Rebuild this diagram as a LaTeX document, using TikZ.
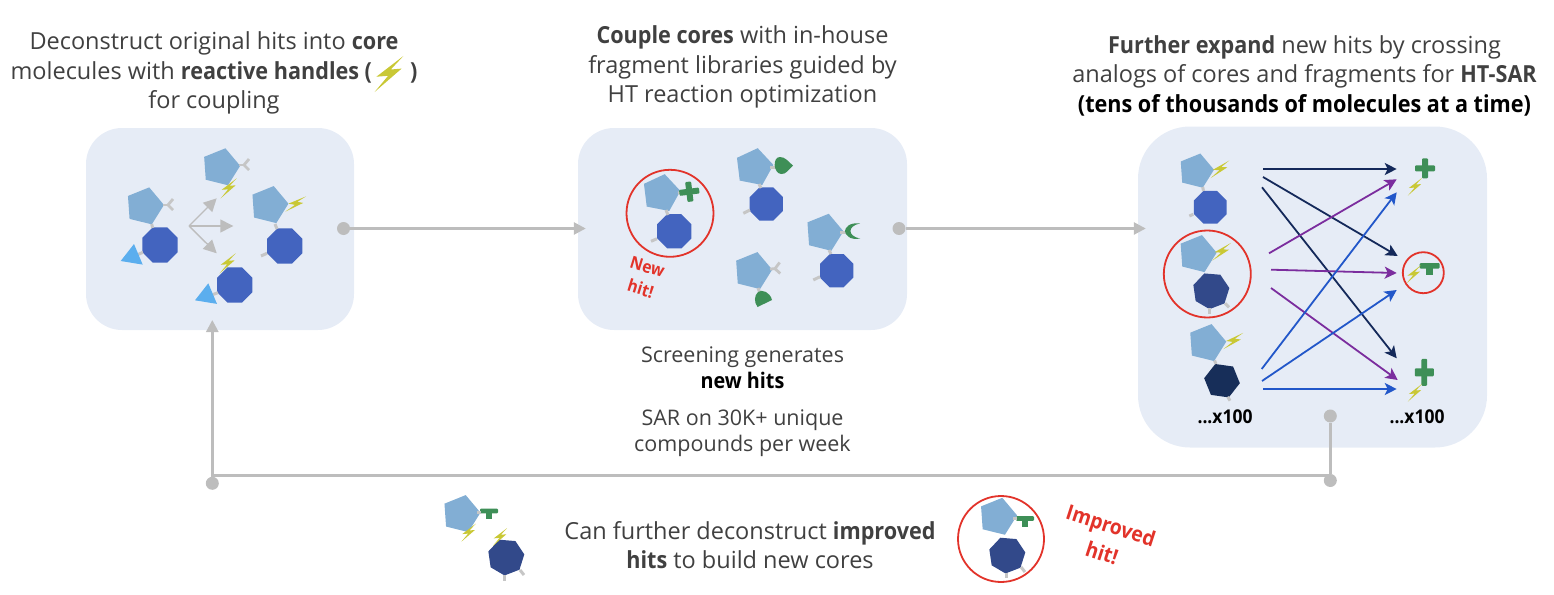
\documentclass[tikz,border=0pt]{standalone}
\usepackage{fontspec}
\setmainfont{Open Sans}[BoldFeatures={FakeStretch=0.92}]
\usepackage{xcolor}
\usetikzlibrary{shapes.geometric, arrows.meta, positioning}

\definecolor{panelblue}{HTML}{E6ECF6}
\definecolor{pentblue}{HTML}{82AED4}
\definecolor{octablue}{HTML}{4364BF}
\definecolor{heptblue}{HTML}{32498A}
\definecolor{hexnavy}{HTML}{172E59}
\definecolor{wedgeblue}{HTML}{5BAEEE}
\definecolor{leafgreen}{HTML}{3E8F57}
\definecolor{boltyellow}{HTML}{C9C835}
\definecolor{stubgray}{HTML}{C6C6C6}
\definecolor{flowgray}{HTML}{BDBDBD}
\definecolor{textgray}{HTML}{404040}
\definecolor{hitred}{HTML}{E2332A}
\definecolor{navyline}{HTML}{14295A}
\definecolor{purpleline}{HTML}{7B2D9E}
\definecolor{blueline}{HTML}{2257C9}

\tikzset{
  panel/.style={fill=panelblue, rounded corners=36pt, inner sep=0pt},
  heading/.style={align=center, text=textgray, font=\fontsize{23.5}{29.5}\selectfont, inner sep=0pt},
  caption/.style={align=center, text=textgray, font=\fontsize{21.5}{26.5}\selectfont, inner sep=0pt},
  countlabel/.style={font=\fontsize{19}{20}\selectfont\bfseries, inner sep=0pt},
  hitlabel/.style={align=center, text=hitred, font=\fontsize{17}{23}\selectfont\bfseries, inner sep=0pt},
  pent/.style={regular polygon, regular polygon sides=5, minimum size=39pt, inner sep=0pt, fill=pentblue},
  octa/.style={regular polygon, regular polygon sides=8, minimum size=38pt, inner sep=0pt, fill=octablue},
  hept/.style={regular polygon, regular polygon sides=7, minimum size=37pt, inner sep=0pt, fill=heptblue},
  hexa/.style={regular polygon, regular polygon sides=6, minimum size=36pt, inner sep=0pt, fill=hexnavy},
  hitring/.style={circle, draw=hitred, line width=1.8pt, inner sep=0pt},
  hubdot/.style={circle, fill=flowgray, minimum size=13pt, inner sep=0pt},
  stub/.style={draw=stubgray, line width=3pt},
  flowline/.style={draw=flowgray, line width=2.6pt},
  flowarrow/.style={flowline, -{Triangle[length=12pt,width=12pt]}},
  splitarrow/.style={draw=flowgray, line width=1.4pt, -{Triangle[length=13pt,width=13pt]}},
  navyarrow/.style={draw=navyline, line width=1.8pt, -{Stealth[length=12pt,width=12pt,inset=3pt]}},
  purplearrow/.style={draw=purpleline, line width=1.8pt, -{Stealth[length=12pt,width=12pt,inset=3pt]}},
  bluearrow/.style={draw=blueline, line width=1.8pt, -{Stealth[length=12pt,width=12pt,inset=3pt]}},
  bolt/.pic={\fill[boltyellow] (8,-10) -- (-7,1.5) -- (-0.5,1) -- (-8,10) -- (7,-3) -- (1,-2.5) -- cycle;},
  forkend/.pic={
    \draw[stub, line width=2.8pt] (0,0) -- (5,0);
    \draw[stub, line width=2.8pt] (10,-6) -- (5,0) -- (10,5);
  },
  pluscap/.pic={
    \fill[leafgreen, rounded corners=1pt] (-3,-10) rectangle (3,10);
    \fill[leafgreen, rounded corners=1pt] (-10,-3) rectangle (10,3);
  },
  teecap/.pic={
    \fill[leafgreen, rounded corners=1pt] (-10,-2.7) rectangle (10,2.7);
    \fill[leafgreen] (-3.3,0) rectangle (3.3,9);
  },
  wedgecap/.pic={\fill[wedgeblue] (13.3,-12.3) -- (0,4.7) -- (22,8.3) -- cycle;},
}

\begin{document}
\begin{tikzpicture}[x=1pt, y=-1pt]
    \useasboundingbox (0,0) rectangle (1554,594);

    % Panels
    \node (box1) [panel, minimum width=268pt, minimum height=202pt] at (220,229) {};
    \node (box2) [panel, minimum width=329pt, minimum height=202pt] at (742.5,229) {};
    \node (box3) [panel, rounded corners=52pt, minimum width=349pt, minimum height=321pt] at (1312.5,287) {};

    % Headings
    \node (head1) [heading, above=13pt of box1, xshift=-6pt] {Deconstruct original hits into \textbf{core}\\molecules with \textbf{reactive handles (\hspace*{38pt})}\\for coupling};
    \node (head2) [heading, above=19pt of box2] {\textbf{Couple cores} with in-house\\fragment libraries guided by\\HT reaction optimization};
    \node (head3) [heading, above=10pt of box3, xshift=-8pt] {\textbf{Further expand} new hits by crossing\\analogs of cores and fragments for \textbf{HT-SAR}\\\textcolor{black}{\textbf{(tens of thousands of molecules at a time)}}};
    \pic [scale=1.8] at (389,74) {bolt};

    % Captions
    \node (cap1) [caption, below=16pt of box2] {Screening generates\\\textcolor{black}{\textbf{new hits}}};
    \node (cap2) [caption, below=20pt of cap1] {SAR on 30K+ unique\\compounds per week};
    \node (cap3) [heading] at (750,545) {Can further deconstruct \textbf{improved}\\\textbf{hits} to build new cores};

    % Panel 1 molecules
    \node (p1a) [pent, shape border rotate=-14] at (144.5,206.3) {};
    \node (o1a) [octa] at (160,245) {};
    \draw[stub] (151.7,224) -- (152.7,228);
    \draw[stub] (143,252.3) -- (138,254.5);
    \pic at (163,205) {forkend};
    \pic at (120.7,256.3) {wedgecap};
    \node (p1b) [pent, shape border rotate=-14] at (220.7,167.2) {};
    \pic at (239,165) {forkend};
    \pic at (228.7,188.3) {bolt};
    \node (p1c) [pent, shape border rotate=-14] at (269,205) {};
    \node (o1c) [octa] at (284.7,246) {};
    \draw[stub] (275,224) -- (277,229);
    \draw[stub] (267,253.3) -- (261,256);
    \pic [rotate=-15] at (295.7,204) {bolt};
    \node (o1d) [octa] at (234.7,285) {};
    \draw[stub] (218,292.7) -- (213,294.5);
    \pic at (195,295.6) {wedgecap};
    \pic at (227.7,263.3) {bolt};

    % Splitting arrows
    \coordinate (fork) at (189,226);
    \coordinate (forktop) at (216.7,198.3);
    \coordinate (forkmid) at (233.3,226);
    \coordinate (forkbot) at (216.7,253.3);
    \draw[splitarrow] (fork) -- (forktop);
    \draw[splitarrow] (fork) -- (forkmid);
    \draw[splitarrow] (fork) -- (forkbot);

    % Panel 2 molecules
    \node (hit2) [hitring, minimum size=87pt] at (670,213.3) {};
    \node (p2a) [pent, shape border rotate=-11] at (661,193.3) {};
    \node (o2a) [octa, minimum size=37pt] at (674.3,231.3) {};
    \draw[stub] (666,210) -- (668,215);
    \draw[stub] (657,238.7) -- (651,241.3);
    \draw[stub] (678,193) -- (682,192.5);
    \pic [rotate=7] at (689.3,191.7) {pluscap};
    \node (newhit) [hitlabel, rotate=-17] at (644,278) {New\\hit!};

    \node (p2b) [pent, shape border rotate=-11] at (754,167.3) {};
    \node (o2b) [octa, minimum size=36pt] at (766.3,204) {};
    \draw[stub] (759,184) -- (761,188);
    \draw[stub] (750,210) -- (743.3,213.3);
    \draw[stub] (770,167) -- (776,167);
    \fill[leafgreen] (793,165.7) .. controls (788,161) and (785,157) .. (780,157) .. controls (772,157) and (773.5,173.5) .. (781,174) .. controls (786,174.5) and (788,170) .. (793,165.7) -- cycle;

    \node (p2c) [pent, shape border rotate=-14] at (824,232.7) {};
    \node (o2c) [octa, minimum size=36pt] at (836.7,270.7) {};
    \draw[stub] (829,250) -- (831,254);
    \draw[stub] (820,276.7) -- (813.3,280);
    \draw[stub] (840,232) -- (846,232);
    \fill[leafgreen] (860,223.5) .. controls (849,222) and (845,228) .. (845,231) .. controls (845,235) and (850,240.5) .. (860,238.5) .. controls (853,237) and (850.5,234) .. (850.5,231) .. controls (850.5,228) and (853,225) .. (860,223.5) -- cycle;

    \node (p2d) [pent, shape border rotate=-14] at (752.7,271) {};
    \pic [rotate=3] at (770,269) {forkend};
    \draw[stub] (758,288) -- (760,293);
    \fill[leafgreen] (757.5,307) -- (772,300) .. controls (770,292) and (762,289) .. (758,292) .. controls (754,296) and (754,302) .. (757.5,307) -- cycle;

    % Panel 3 cores
    \node (p3a) [pent, minimum size=36pt, shape border rotate=-14] at (1196,171) {};
    \node (o3a) [octa, minimum size=35.5pt] at (1210.3,207.3) {};
    \draw[stub] (1202.7,187) -- (1203.5,191);
    \draw[stub] (1193.3,214.3) -- (1189.3,216);
    \pic [rotate=-8] at (1220,169.3) {bolt};

    \node (hit3) [hitring, minimum size=87pt] at (1207.3,274) {};
    \node (p3b) [pent, shape border rotate=-14] at (1197.2,254) {};
    \node (o3b) [hept, shape border rotate=21] at (1211,290.7) {};
    \draw[stub] (1209,308.3) -- (1209,314);
    \draw[stub] (1225,303.3) -- (1229,307.3);
    \pic [rotate=-8] at (1221.7,251.7) {bolt};

    \node (p3c) [pent, shape border rotate=-14] at (1206.8,343) {};
    \node (o3c) [hexa, shape border rotate=-8] at (1222,380.7) {};
    \draw[stub] (1214.5,360.5) -- (1216,364);
    \draw[stub] (1227.7,396.7) -- (1230,400.7);
    \pic [rotate=-12] at (1233.3,341) {bolt};

    \node (n100a) [countlabel] at (1225,417) {...x100};

    % Panel 3 fragments
    \pic at (1425,168.3) {pluscap};
    \pic [scale=0.88] at (1415,186.7) {bolt};
    \node (hit3f) [hitring, minimum size=41pt] at (1423.3,272.7) {};
    \pic at (1429.7,265.8) {teecap};
    \pic [scale=0.9] at (1413.7,274.3) {bolt};
    \pic [xscale=0.95, yscale=1.35] at (1424.3,372.3) {pluscap};
    \pic [scale=0.88] at (1415,392.7) {bolt};
    \node (n100b) [countlabel] at (1417,417) {...x100};

    % Crossing arrows
    \coordinate (srca) at (1263,169);
    \coordinate (srcb) at (1263,177);
    \coordinate (srcc) at (1262,187.3);
    \coordinate (srcd) at (1269,253.3);
    \coordinate (srce) at (1271,269.7);
    \coordinate (srcf) at (1271,288);
    \coordinate (srcg) at (1261.7,369);
    \coordinate (srch) at (1262,381);
    \coordinate (srci) at (1263,389);
    \coordinate (dsta) at (1396.7,169);
    \coordinate (dstb) at (1397.7,256);
    \coordinate (dstc) at (1396.7,358.3);
    \coordinate (dstd) at (1396.7,179.3);
    \coordinate (dste) at (1396.7,273);
    \coordinate (dstf) at (1397.7,380);
    \coordinate (dstg) at (1396.7,192.3);
    \coordinate (dsth) at (1396.7,290);
    \coordinate (dsti) at (1396.7,389);
    \draw[navyarrow] (srca) -- (dsta);
    \draw[navyarrow] (srcb) -- (dstb);
    \draw[navyarrow] (srcc) -- (dstc);
    \draw[purplearrow] (srcd) -- (dstd);
    \draw[purplearrow] (srce) -- (dste);
    \draw[purplearrow] (srcf) -- (dstf);
    \draw[bluearrow] (srcg) -- (dstg);
    \draw[bluearrow] (srch) -- (dsth);
    \draw[bluearrow] (srci) -- (dsti);

    % Bottom row molecules
    \node (p4a) [pent, shape border rotate=-14] at (461,514) {};
    \pic [scale=0.9] at (489,511) {teecap};
    \draw[stub] (477,512) -- (481,512);
    \pic [scale=0.9] at (468.6,532.7) {bolt};
    \node (o4a) [hept, shape border rotate=21] at (506,557) {};
    \draw[stub] (504,575) -- (504,581);
    \draw[stub] (520,570) -- (524,575);
    \pic [scale=0.9] at (500,537) {bolt};

    \node (hit4) [hitring, minimum size=86pt] at (1001,539) {};
    \node (p4b) [pent, shape border rotate=-14] at (997.6,516.7) {};
    \node (o4b) [hept, shape border rotate=21] at (1007,555) {};
    \draw[stub] (1006,573) -- (1006,578);
    \draw[stub] (1021,567) -- (1025,572);
    \pic [scale=0.9] at (1025,518.5) {teecap};
    \draw[stub] (1013,518) -- (1017,518);
    \node (imphit) [hitlabel, font=\fontsize{21}{29}\selectfont\bfseries, rotate=-18] at (1106.5,539) {Improved\\hit!};

    % Flow connectors
    \node (dot1) [hubdot] at (343.5,228.5) {};
    \node (dot2) [hubdot] at (899,228.5) {};
    \node (dot3) [hubdot] at (1330.3,416) {};
    \node (dot4) [hubdot] at (1330.3,480.5) {};
    \node (dot5) [hubdot] at (212.3,483.3) {};
    \coordinate (bendr) at (1330.3,475.5);
    \coordinate (bendl) at (212.3,475.5);
    \coordinate (loopend) at (212.3,320);
    \draw[flowarrow] (dot1) -- ([xshift=8pt]box2.west |- dot1);
    \draw[flowarrow] (dot2) -- ([xshift=8pt]box3.west |- dot2);
    \draw[flowline] (dot3) -- (dot4);
    \draw[flowline] (bendr) -- (bendl);
    \draw[flowarrow] (dot5) -- (loopend);
\end{tikzpicture}
\end{document}
